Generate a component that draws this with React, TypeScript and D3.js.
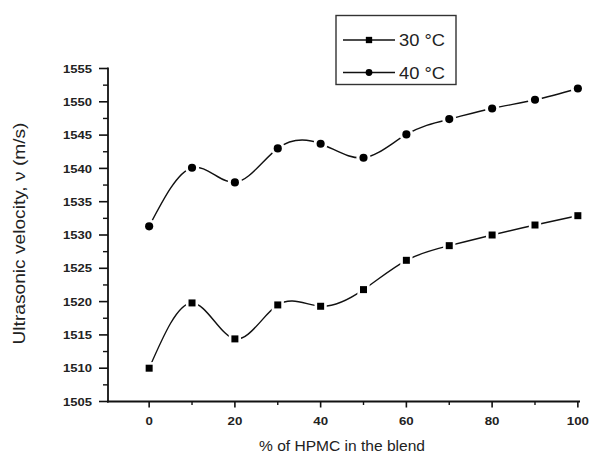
import React from "react";
import * as d3 from "d3";

const xValues = [0, 10, 20, 30, 40, 50, 60, 70, 80, 90, 100];
const series30 = [1510.0, 1519.8, 1514.4, 1519.5, 1519.3, 1521.8, 1526.2, 1528.4, 1530.0, 1531.5, 1532.9];
const series40 = [1531.3, 1540.1, 1537.9, 1543.0, 1543.7, 1541.6, 1545.1, 1547.4, 1549.0, 1550.3, 1552.0];
const yTicks = [1505, 1510, 1515, 1520, 1525, 1530, 1535, 1540, 1545, 1550, 1555];
const yMinor = [1507.5, 1512.5, 1517.5, 1522.5, 1527.5, 1532.5, 1537.5, 1542.5, 1547.5, 1552.5];
const xTicks = [0, 20, 40, 60, 80, 100];
const xMinor = [10, 30, 50, 70, 90];
const legendLabels = ["30 °C", "40 °C"];

export default function App() {
  const W = 610, H = 454;
  const x = d3.scaleLinear().domain([-9.6, 100.5]).range([108, 580]);
  const y = d3.scaleLinear().domain([1505, 1555]).range([401.5, 68.5]);
  const line = d3.line<number>().x((_, i) => x(xValues[i])).y((d) => y(d)).curve(d3.curveNatural);
  const sq = d3.symbol().type(d3.symbolSquare).size(49)();
  const sqHalo = d3.symbol().type(d3.symbolSquare).size(150)();
  const dia = d3.symbol().type(d3.symbolCircle).size(52)();
  const diaHalo = d3.symbol().type(d3.symbolCircle).size(160)();
  const font = "'Liberation Sans', Arial, sans-serif";
  const x0 = x.range()[0];
  const yb = y.range()[0];

  const renderSeries = (data: number[], sym: string, halo: string, key: string) => (
    <g key={key}>
      <path d={line(data) || ""} fill="none" stroke="#111" strokeWidth={1.4} />
      {data.map((d, i) => (
        <path key={"h" + i} d={halo} transform={`translate(${x(xValues[i])},${y(d)})`} fill="#fff" />
      ))}
      {data.map((d, i) => (
        <path key={"m" + i} d={sym} transform={`translate(${x(xValues[i])},${y(d)})`} fill="#000" />
      ))}
    </g>
  );

  return (
    <svg width={W} height={H} style={{ position: "absolute", left: 0, top: 0, background: "#fff" }}>
      <rect width={W} height={H} fill="#fff" />
      {/* axes */}
      <line x1={x0} x2={x0} y1={y(1555) - 1} y2={yb + 1} stroke="#111" strokeWidth={1.8} />
      <line x1={x0 - 1} x2={x.range()[1]} y1={yb} y2={yb} stroke="#111" strokeWidth={1.8} />
      {yTicks.map((t) => (
        <g key={"yt" + t}>
          <line x1={x0 - 9} x2={x0} y1={y(t)} y2={y(t)} stroke="#111" strokeWidth={1.6} />
          <text x={x0 - 16} y={y(t)} dy="0.36em" textAnchor="end" fontFamily={font} fontSize={11.5} fontWeight="bold" fill="#222" textLength={29} lengthAdjust="spacingAndGlyphs">{t}</text>
        </g>
      ))}
      {yMinor.map((t) => (
        <line key={"ym" + t} x1={x0 - 5} x2={x0} y1={y(t)} y2={y(t)} stroke="#111" strokeWidth={1.4} />
      ))}
      {xTicks.map((t) => (
        <g key={"xt" + t}>
          <line x1={x(t)} x2={x(t)} y1={yb} y2={yb + 6} stroke="#111" strokeWidth={1.6} />
          <text x={x(t)} y={yb + 23} textAnchor="middle" fontFamily={font} fontSize={11.5} fontWeight="bold" fill="#222" textLength={String(t).length * 7.4} lengthAdjust="spacingAndGlyphs">{t}</text>
        </g>
      ))}
      {xMinor.map((t) => (
        <line key={"xm" + t} x1={x(t)} x2={x(t)} y1={yb} y2={yb + 3.5} stroke="#111" strokeWidth={1.4} />
      ))}
      {/* series */}
      {renderSeries(series30, sq, sqHalo, "s30")}
      {renderSeries(series40, dia, diaHalo, "s40")}
      {/* axis titles */}
      <text x={342} y={451} textAnchor="middle" fontFamily={font} fontSize={15.5} fill="#222" textLength={166} lengthAdjust="spacingAndGlyphs">% of HPMC in the blend</text>
      <text transform={`translate(25,233.5) rotate(-90)`} textAnchor="middle" fontFamily={font} fontSize={16} fill="#222" textLength={222} lengthAdjust="spacingAndGlyphs">Ultrasonic velocity, ν (m/s)</text>
      {/* legend */}
      <rect x={336} y={15.5} width={120} height={69} fill="#fff" stroke="#333" strokeWidth={1.4} />
      {legendLabels.map((lab, i) => {
        const ly = 40 + i * 32.5;
        return (
          <g key={"lg" + i}>
            <line x1={343} x2={395} y1={ly} y2={ly} stroke="#111" strokeWidth={1.4} />
            <path d={i === 0 ? d3.symbol().type(d3.symbolSquare).size(40)() || "" : d3.symbol().type(d3.symbolCircle).size(36)() || ""} transform={`translate(369,${ly})`} fill="#000" />
            <text x={399} y={ly} dy="0.36em" fontFamily={font} fontSize={17} fill="#222" textLength={46} lengthAdjust="spacingAndGlyphs">{lab}</text>
          </g>
        );
      })}
    </svg>
  );
}
